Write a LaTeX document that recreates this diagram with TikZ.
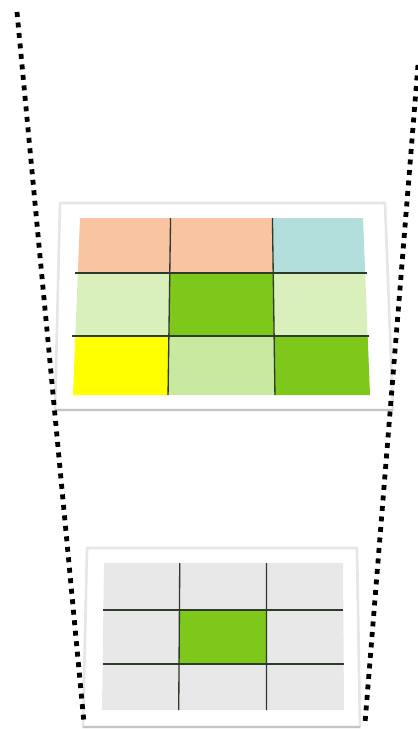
\documentclass[tikz,border=0pt]{standalone}
\usepackage{tikz}
\usetikzlibrary{calc}
\definecolor{Peach}{HTML}{F9C4A2}
\definecolor{Aqua}{HTML}{B2DEDC}
\definecolor{Pale}{HTML}{D9F0BC}
\definecolor{Leaf}{HTML}{7DC81A}
\definecolor{Lemon}{HTML}{FFFF00}
\definecolor{Sage}{HTML}{C9E9A0}
\definecolor{Fog}{HTML}{E8E8E8}
\definecolor{Rim}{HTML}{E6E6E6}
\definecolor{Base}{HTML}{C4C4C4}
\definecolor{Ink}{HTML}{2E3A2A}
\tikzset{
  slab/.style={draw=Rim,fill=white,line width=2pt,line join=round},
  slabbase/.style={draw=Base,line width=2pt},
  gridline/.style={draw=Ink,line width=1pt},
  sightline/.style={draw=black,line width=3.6pt,dash pattern=on 3.7pt off 4.2pt}
}
% point inside a quad: (u,v) in [0,1]^2
\newcommand{\qp}[3]{($($(#1TL)!#2!(#1TR)$)!#3!($(#1BL)!#2!(#1BR)$)$)}

\begin{document}
\begin{tikzpicture}[x=.75pt,y=-.75pt]
  \useasboundingbox (0,0) rectangle (418,729);

  % upper slab, coloured map
  \coordinate (uSTL) at (60,203);
  \coordinate (uSTR) at (385,203);
  \coordinate (uSBR) at (393,410);
  \coordinate (uSBL) at (55,410);
  \draw[slab] (uSTL) -- (uSTR) -- (uSBR) -- (uSBL) -- cycle;
  \draw[slabbase] (uSBL) -- (uSBR);

  \coordinate (uTL) at (80,218);
  \coordinate (uTR) at (363,218);
  \coordinate (uBL) at (73,395);
  \coordinate (uBR) at (370,395);
  \foreach \ua/\ub/\va/\vb/\col in {0/.32/0/.31/Peach,.32/.68/0/.31/Peach,.68/1/0/.31/Aqua,
      0/.32/.31/.667/Pale,.32/.68/.31/.667/Leaf,.68/1/.31/.667/Pale,
      0/.32/.667/1/Lemon,.32/.68/.667/1/Sage,.68/1/.667/1/Leaf}
    \fill[\col] \qp{u}{\ua}{\va} -- \qp{u}{\ub}{\va} -- \qp{u}{\ub}{\vb} -- \qp{u}{\ua}{\vb} -- cycle;
  \foreach \t in {.32,.68}
    \draw[gridline] \qp{u}{\t}{0} -- \qp{u}{\t}{1};
  \foreach \t in {.31,.667}
    \draw[gridline] \qp{u}{-.01}{\t} -- \qp{u}{1.005}{\t};

  % lower slab, single cell
  \coordinate (lSTL) at (87,548);
  \coordinate (lSTR) at (357,548);
  \coordinate (lSBR) at (360,727);
  \coordinate (lSBL) at (83,727);
  \draw[slab] (lSTL) -- (lSTR) -- (lSBR) -- (lSBL) -- cycle;
  \draw[slabbase] (lSBL) -- (lSBR);

  \coordinate (lTL) at (104,563);
  \coordinate (lTR) at (343,563);
  \coordinate (lBL) at (102,710);
  \coordinate (lBR) at (344,710);
  \fill[Fog] (lTL) -- (lTR) -- (lBR) -- (lBL) -- cycle;
  \fill[Leaf] \qp{l}{.317}{.32} -- \qp{l}{.68}{.32} -- \qp{l}{.68}{.687} -- \qp{l}{.317}{.687} -- cycle;
  \foreach \t in {.317,.68}
    \draw[gridline] \qp{l}{\t}{0} -- \qp{l}{\t}{1};
  \foreach \t in {.32,.687}
    \draw[gridline] \qp{l}{0}{\t} -- \qp{l}{1}{\t};

  % sight lines
  \coordinate (lefttop) at (17,12);
  \coordinate (leftfoot) at (84,723);
  \coordinate (righttop) at (418,65);
  \coordinate (rightfoot) at (365,723);
  \draw[sightline] (lefttop) -- (leftfoot);
  \draw[sightline] (righttop) -- (rightfoot);
\end{tikzpicture}
\end{document}
